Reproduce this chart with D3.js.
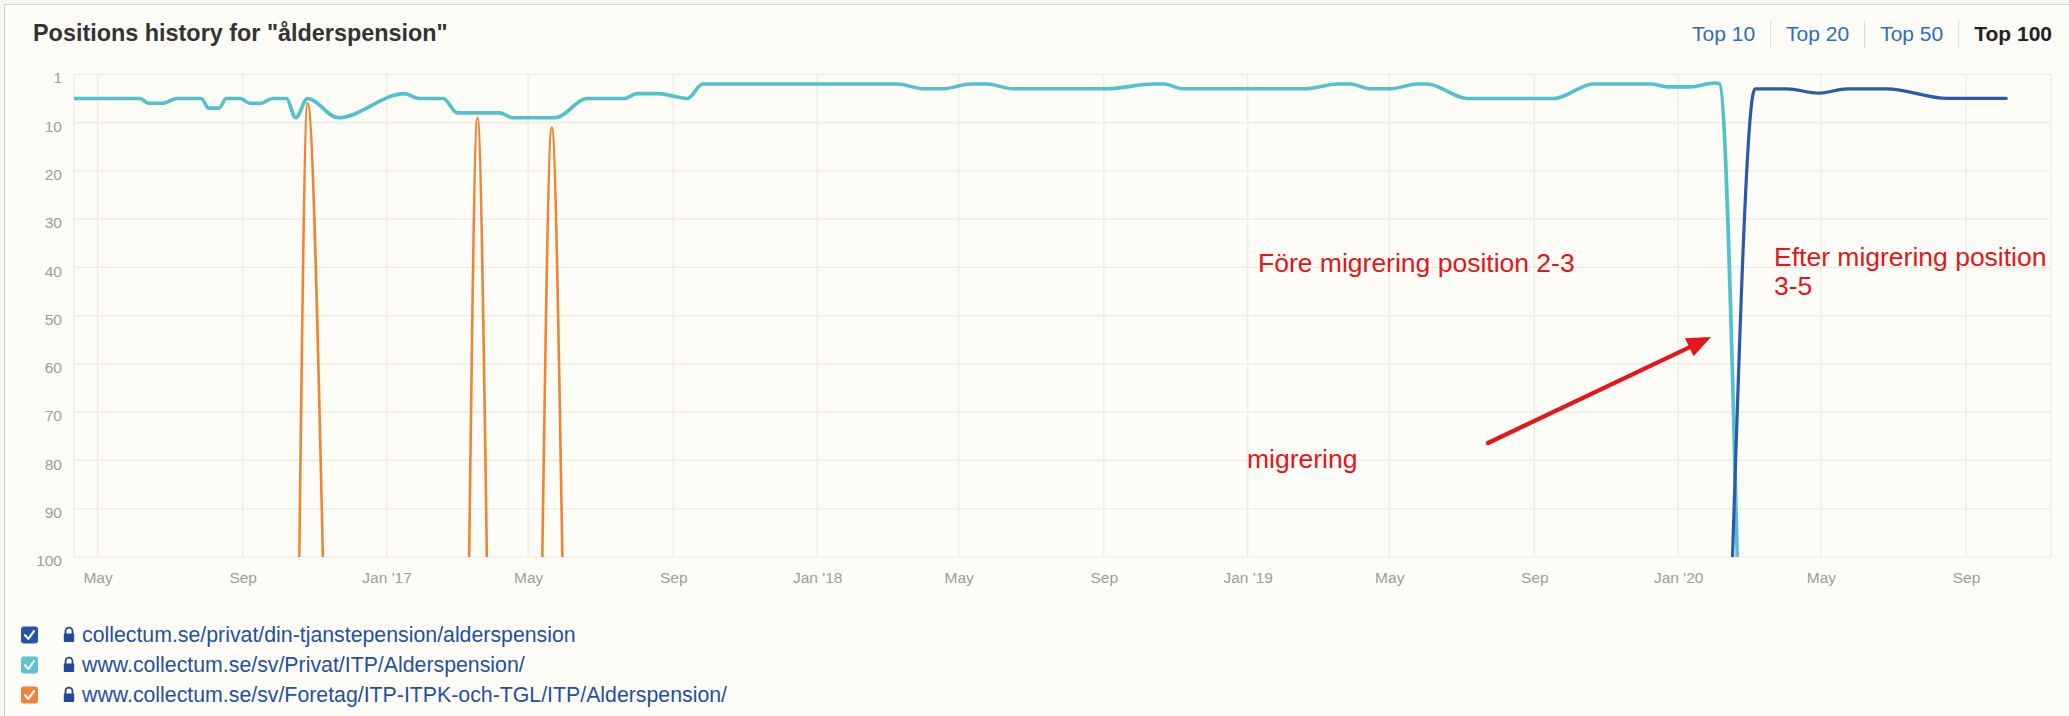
<!DOCTYPE html>
<html>
<head>
<meta charset="utf-8">
<script src="https://cdn.jsdelivr.net/npm/d3@7"></script>
<style>
  html, body { margin: 0; padding: 0; background: #f6f6f4; }
  svg { display: block; font-family: "Helvetica Neue", Helvetica, Arial, "Liberation Sans", sans-serif; }
</style>
</head>
<body>
<svg width="2069" height="716"></svg>
<script>
// ---- data ----
const cyanDates = [
  '2016-04-12', '2016-06-06', '2016-06-13', '2016-06-25', '2016-07-07', '2016-07-28',
  '2016-08-03', '2016-08-12', '2016-08-18', '2016-08-30', '2016-09-07', '2016-09-17',
  '2016-09-26', '2016-10-08', '2016-10-16', '2016-10-26', '2016-11-21', '2017-01-16',
  '2017-01-29', '2017-02-18', '2017-03-02', '2017-04-07', '2017-04-18', '2017-05-24',
  '2017-06-20', '2017-07-22', '2017-08-01', '2017-08-19', '2017-09-13', '2017-09-26',
  '2018-03-10', '2018-04-01', '2018-04-18', '2018-05-11', '2018-05-25', '2018-06-16',
  '2018-09-04', '2018-10-13', '2018-10-22', '2018-11-07', '2019-02-20', '2019-03-18',
  '2019-03-29', '2019-04-15', '2019-05-02', '2019-05-25', '2019-06-02', '2019-07-06',
  '2019-09-18', '2019-10-21', '2019-12-08', '2019-12-24', '2020-01-11', '2020-02-01',
  '2020-02-05', '2020-02-20',
];
const cyanRanks = [
  5, 5, 6, 6, 5, 5,
  7, 7, 5, 5, 6, 6,
  5, 5, 9, 5, 9, 4,
  5, 5, 8, 8, 9, 9,
  5, 5, 4, 4, 5, 2,
  2, 3, 3, 2, 2, 3,
  3, 2, 2, 3, 3, 2,
  2, 3, 3, 2, 2, 5,
  5, 2, 2, 2.6, 2.6, 1.8,
  2, 100,
];
const darkDates = [
  '2020-02-16', '2020-03-06', '2020-04-02', '2020-04-29', '2020-05-23',
  '2020-06-26', '2020-08-16', '2020-10-05',
];
const darkRanks = [100, 3, 3, 3.9, 3, 3, 5, 5];
const orangeDates = [
  '2016-10-19', '2016-10-26', '2016-11-08', '2016-11-09',
  '2017-03-12', '2017-03-19', '2017-03-27', '2017-03-28',
  '2017-05-13', '2017-05-21', '2017-05-30',
];
const orangeRanks = [100, 6, 100, null, 100, 9, 100, null, 100, 11, 100];

const yTicks = [0, 10, 20, 30, 40, 50, 60, 70, 80, 90, 100];
const yTickLabels = ['1', '10', '20', '30', '40', '50', '60', '70', '80', '90', '100'];
const rangeButtons = ['Top 10', 'Top 20', 'Top 50', 'Top 100'];
const legendUrls = [
  'collectum.se/privat/din-tjanstepension/alderspension',
  'www.collectum.se/sv/Privat/ITP/Alderspension/',
  'www.collectum.se/sv/Foretag/ITP-ITPK-och-TGL/ITP/Alderspension/',
];
const legendColors = ['#2457ab', '#5cc3d4', '#ef8239'];

// ---- layout ----
const W = 2069, H = 716;
const plot = {left: 74, right: 2051, top: 74.3, bottom: 557};
const parse = d3.utcParse('%Y-%m-%d');

const svg = d3.select('svg');

svg.append('rect')
  .attr('x', 4.5).attr('y', 4.5)
  .attr('width', W + 20).attr('height', H + 20)
  .attr('fill', '#fdfcf6').attr('stroke', '#d2d2d0');

const x = d3.scaleUtc()
  .domain([parse('2016-04-11'), parse('2020-11-12')])
  .range([plot.left, plot.right]);
const y = d3.scaleLinear().domain([0, 100]).range([plot.top, plot.bottom]);

// grid
const grid = svg.append('g').attr('stroke', '#eeeae0').attr('stroke-width', 1.2);
grid.selectAll('.h').data(yTicks).join('line')
  .attr('x1', plot.left).attr('x2', plot.right)
  .attr('y1', d => y(d)).attr('y2', d => y(d));
const xTicks = x.ticks(d3.utcMonth.every(4));
grid.selectAll('.v').data([x.domain()[0], ...xTicks, x.domain()[1]]).join('line')
  .attr('x1', d => x(d)).attr('x2', d => x(d))
  .attr('y1', plot.top).attr('y2', plot.bottom);

// axes
const fmt = d => d.getUTCMonth() === 0 ? d3.utcFormat("%b '%y")(d) : d3.utcFormat('%b')(d);
const xAxis = svg.append('g')
  .attr('transform', 'translate(0,' + plot.bottom + ')')
  .call(d3.axisBottom(x).tickValues(xTicks).tickFormat(fmt).tickSize(0).tickPadding(15));
const yAxis = svg.append('g')
  .attr('transform', 'translate(' + plot.left + ',0)')
  .call(d3.axisLeft(y).tickValues(yTicks).tickFormat((d, i) => yTickLabels[i]).tickSize(0).tickPadding(12));
[xAxis, yAxis].forEach(a => {
  a.select('.domain').remove();
  a.selectAll('text').attr('fill', '#9c9c9c').attr('font-size', '15.5px')
    .attr('font-family', '"Helvetica Neue", Helvetica, Arial, "Liberation Sans", sans-serif');
});
yAxis.selectAll('text').attr('dy', '0.56em');

// lines
svg.append('defs').append('clipPath').attr('id', 'plot-clip')
  .append('rect').attr('x', plot.left).attr('y', plot.top - 4)
  .attr('width', plot.right - plot.left).attr('height', plot.bottom - plot.top + 4);

const line = d3.line()
  .defined(d => d.r !== null)
  .x(d => x(d.t)).y(d => y(d.r))
  .curve(d3.curveMonotoneX);
const zip = (ds, rs) => ds.map((s, i) => ({t: parse(s), r: rs[i]}));

const lines = svg.append('g').attr('clip-path', 'url(#plot-clip)')
  .attr('fill', 'none').attr('stroke-linejoin', 'round').attr('stroke-linecap', 'round');
lines.append('path').attr('d', line(zip(orangeDates, orangeRanks)))
  .attr('stroke', '#ef8434').attr('stroke-width', 2.6);
lines.append('path').attr('d', line(zip(cyanDates, cyanRanks)))
  .attr('stroke', '#50c1cd').attr('stroke-width', 3.6);
lines.append('path').attr('d', line(zip(darkDates, darkRanks)))
  .attr('stroke', '#2a5aae').attr('stroke-width', 3.2);

// title
svg.append('text').attr('x', 33).attr('y', 41)
  .attr('font-size', '23.4px').attr('font-weight', 'bold').attr('fill', '#333')
  .text('Positions history for "ålderspension"');

// range buttons, laid out from the right
let bx = 2052;
const btnG = svg.append('g');
for (let i = rangeButtons.length - 1; i >= 0; i--) {
  const last = i === rangeButtons.length - 1;
  const t = btnG.append('text').attr('y', 41).attr('font-size', '21px')
    .attr('text-anchor', 'end').attr('x', bx)
    .attr('fill', last ? '#222' : '#2d6dbf')
    .attr('font-weight', last ? 'bold' : 'normal')
    .text(rangeButtons[i]);
  const w = t.node().getComputedTextLength();
  bx -= w;
  if (i > 0) {
    btnG.append('line').attr('x1', bx - 15.5).attr('x2', bx - 15.5)
      .attr('y1', 21).attr('y2', 48).attr('stroke', '#e2ded4').attr('stroke-width', 1.2);
    bx -= 31;
  }
}

// annotations
const red = '#e3161c';
const ann = svg.append('g').attr('fill', red).attr('font-size', '26.5px');
ann.append('text').attr('x', 1258).attr('y', 272).text('Före migrering position 2-3');
ann.append('text').attr('x', 1774).attr('y', 266).text('Efter migrering position');
ann.append('text').attr('x', 1774).attr('y', 295).text('3-5');
ann.append('text').attr('x', 1247).attr('y', 468).text('migrering');

const tail = [1488, 443], tip = [1711, 337];
const len = Math.hypot(tip[0] - tail[0], tip[1] - tail[1]);
const ux = (tip[0] - tail[0]) / len, uy = (tip[1] - tail[1]) / len;
const base = [tip[0] - 24 * ux, tip[1] - 24 * uy];
svg.append('line').attr('x1', tail[0]).attr('y1', tail[1])
  .attr('x2', base[0]).attr('y2', base[1])
  .attr('stroke', red).attr('stroke-width', 4.2).attr('stroke-linecap', 'round');
svg.append('path').attr('fill', red).attr('d',
  'M' + tip + 'L' + [base[0] - 10 * uy, base[1] + 10 * ux] +
  'L' + [base[0] + 10 * uy, base[1] - 10 * ux] + 'Z');

// legend
const leg = svg.append('g');
legendUrls.forEach((u, i) => {
  const cy = 635 + i * 30;
  const g = leg.append('g').attr('transform', 'translate(0,' + cy + ')');
  g.append('rect').attr('x', 21).attr('y', -8.5).attr('width', 17).attr('height', 17)
    .attr('rx', 3).attr('fill', legendColors[i]);
  g.append('path').attr('d', 'M25,0.2 L28.3,3.8 L34,-3.8')
    .attr('fill', 'none').attr('stroke', '#fff').attr('stroke-width', 2.2)
    .attr('stroke-linecap', 'round').attr('stroke-linejoin', 'round');
  g.append('path').attr('d', 'M65.5,-1 V-3.8 a3.5,3.5 0 0 1 7,0 V-1')
    .attr('fill', 'none').attr('stroke', '#1f4c98').attr('stroke-width', 1.8);
  g.append('rect').attr('x', 63.8).attr('y', -1.5).attr('width', 10.4).attr('height', 8.5)
    .attr('rx', 1).attr('fill', '#1f4c98');
  g.append('text').attr('x', 82).attr('y', 6.5).attr('font-size', '21.3px')
    .attr('fill', '#24519f').text(u);
});
</script>
</body>
</html>
